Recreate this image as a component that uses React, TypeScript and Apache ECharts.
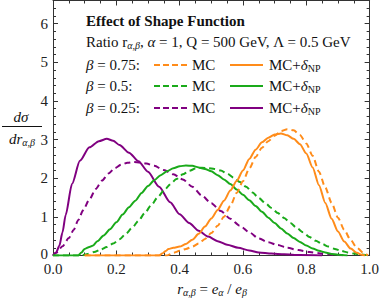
import React, { useEffect, useRef } from 'react';
import * as echarts from 'echarts';

// ---- data (x = r_{α,β}, y = dσ/dr) ----
const orangeMC: [number, number][] = [
  [0.1, 0], [0.36, 0], [0.38, 0.07], [0.4, 0.12], [0.42, 0.17], [0.44, 0.23], [0.46, 0.31], [0.48, 0.43],
  [0.5, 0.58], [0.52, 0.77], [0.54, 1.0], [0.56, 1.28], [0.58, 1.62], [0.6, 1.92], [0.62, 2.25], [0.64, 2.55],
  [0.66, 2.79], [0.68, 2.96], [0.7, 3.1], [0.72, 3.22], [0.74, 3.27], [0.76, 3.24], [0.78, 3.12], [0.8, 2.9],
  [0.82, 2.58], [0.84, 2.17], [0.86, 1.76], [0.88, 1.36], [0.9, 0.98], [0.92, 0.66], [0.94, 0.4], [0.96, 0.2],
  [0.98, 0.07], [0.995, 0],
];
const orangeNP: [number, number][] = [
  [0.1, 0], [0.335, 0], [0.345, 0.05], [0.355, 0.11], [0.365, 0.17], [0.38, 0.2], [0.4, 0.23], [0.42, 0.3],
  [0.44, 0.41], [0.46, 0.56], [0.48, 0.75], [0.5, 0.96], [0.52, 1.18], [0.54, 1.42], [0.56, 1.68], [0.58, 1.93],
  [0.6, 2.2], [0.62, 2.5], [0.64, 2.74], [0.66, 2.93], [0.68, 3.05], [0.7, 3.13], [0.72, 3.16], [0.74, 3.11],
  [0.76, 3.02], [0.78, 2.88], [0.8, 2.64], [0.82, 2.28], [0.84, 1.82], [0.86, 1.36], [0.88, 0.95], [0.9, 0.62],
  [0.92, 0.36], [0.94, 0.18], [0.96, 0.07], [0.975, 0.02], [0.985, 0],
];
const greenMC: [number, number][] = [
  [0, 0], [0.09, 0], [0.11, 0.04], [0.13, 0.09], [0.15, 0.15], [0.17, 0.22], [0.19, 0.31], [0.21, 0.42],
  [0.23, 0.56], [0.25, 0.72], [0.27, 0.9], [0.29, 1.1], [0.31, 1.3], [0.33, 1.5], [0.35, 1.68], [0.37, 1.84],
  [0.39, 1.98], [0.41, 2.1], [0.43, 2.19], [0.45, 2.25], [0.47, 2.27], [0.49, 2.26], [0.51, 2.24], [0.53, 2.2],
  [0.55, 2.12], [0.57, 2.02], [0.59, 1.9], [0.61, 1.78], [0.63, 1.63], [0.65, 1.49], [0.67, 1.36], [0.69, 1.23],
  [0.71, 1.1], [0.73, 0.97], [0.75, 0.84], [0.77, 0.71], [0.79, 0.6], [0.81, 0.48], [0.83, 0.38], [0.85, 0.3],
  [0.87, 0.23], [0.89, 0.17], [0.91, 0.12], [0.93, 0.08], [0.95, 0.05], [0.97, 0.03], [0.99, 0.01], [1, 0],
];
const greenNP: [number, number][] = [
  [0, 0], [0.08, 0], [0.09, 0.08], [0.1, 0.17], [0.115, 0.22], [0.125, 0.25], [0.14, 0.37], [0.16, 0.52],
  [0.18, 0.68], [0.2, 0.86], [0.22, 1.06], [0.24, 1.25], [0.26, 1.42], [0.28, 1.62], [0.3, 1.8], [0.32, 1.95],
  [0.34, 2.08], [0.36, 2.18], [0.38, 2.26], [0.4, 2.31], [0.42, 2.33], [0.44, 2.32], [0.46, 2.28], [0.48, 2.24],
  [0.5, 2.18], [0.52, 2.08], [0.54, 1.97], [0.56, 1.85], [0.58, 1.71], [0.6, 1.57], [0.62, 1.43], [0.64, 1.28],
  [0.66, 1.13], [0.68, 0.98], [0.7, 0.84], [0.72, 0.7], [0.74, 0.57], [0.76, 0.45], [0.78, 0.35], [0.8, 0.26],
  [0.82, 0.18], [0.84, 0.12], [0.86, 0.08], [0.88, 0.04], [0.9, 0.02], [0.93, 0],
];
const purpleMC: [number, number][] = [
  [0, 0], [0.01, 0.07], [0.03, 0.24], [0.05, 0.45], [0.065, 0.66], [0.08, 0.92], [0.095, 1.17], [0.115, 1.45],
  [0.135, 1.72], [0.155, 1.94], [0.175, 2.12], [0.195, 2.26], [0.215, 2.35], [0.235, 2.4], [0.255, 2.42],
  [0.275, 2.41], [0.295, 2.38], [0.32, 2.32], [0.35, 2.21], [0.38, 2.1], [0.41, 1.97], [0.44, 1.78],
  [0.47, 1.55], [0.5, 1.35], [0.53, 1.15], [0.56, 0.95], [0.59, 0.77], [0.62, 0.6], [0.65, 0.44], [0.68, 0.34],
  [0.71, 0.27], [0.74, 0.2], [0.775, 0.14], [0.81, 0.09], [0.84, 0.06], [0.87, 0.03], [0.9, 0.01], [0.93, 0],
];
const purpleNP: [number, number][] = [
  [0, 0], [0.01, 0.08], [0.02, 0.25], [0.03, 0.6], [0.04, 1.05], [0.06, 1.85], [0.085, 2.45], [0.115, 2.8],
  [0.145, 2.96], [0.17, 3.02], [0.19, 2.97], [0.21, 2.86], [0.24, 2.66], [0.27, 2.44], [0.3, 2.17],
  [0.335, 1.78], [0.37, 1.38], [0.4, 1.07], [0.43, 0.84], [0.46, 0.64], [0.49, 0.49], [0.52, 0.37],
  [0.55, 0.28], [0.585, 0.2], [0.62, 0.13], [0.65, 0.08], [0.69, 0.05], [0.73, 0.03], [0.78, 0.01], [0.85, 0],
];

const xTickLabels = ['0.0', '0.2', '0.4', '0.6', '0.8', '1.0'];
const legendRows = ['{it|β} = 0.75:', '{it|β} = 0.5:', '{it|β} = 0.25:'];

const ORANGE = '#FF8C1A';
const GREEN = '#1AAA1A';
const PURPLE = '#800080';
const FONT = '"Liberation Serif", "DejaVu Serif", serif';
const AX = '#333';

export default function App() {
  const ref = useRef<HTMLDivElement>(null);
  useEffect(() => {
    const chart = echarts.init(ref.current!, null, { renderer: 'svg' });
    const colors = [ORANGE, GREEN, PURPLE];
    const rich = {
      it: { fontFamily: FONT, fontSize: 15, fontStyle: 'italic', fill: '#111' },
      sub: { fontFamily: FONT, fontSize: 10, verticalAlign: 'bottom', lineHeight: 8, fill: '#111' },
      subit: { fontFamily: FONT, fontSize: 10, fontStyle: 'italic', verticalAlign: 'bottom', lineHeight: 8, fill: '#111' },
    };
    const txt = (text: string, x: number, y: number, extra: any = {}) => ({
      type: 'text', x, y, z: 100,
      style: {
        text, fill: '#111', font: `15px ${FONT}`, fontFamily: FONT, fontSize: 15,
        align: 'left', verticalAlign: 'middle', textAlign: 'left', textVerticalAlign: 'middle',
        lineHeight: 16, rich, ...extra,
      },
    });
    const graphics: any[] = [
      txt('Effect of Shape Function', 86, 21, { font: `bold 15px ${FONT}`, fontWeight: 'bold' }),
      txt('Ratio r{subit|α,β}, {it|α} = 1, Q = 500 GeV, Λ = 0.5 GeV', 86, 42),
    ];
    const rowY = [65, 86, 108];
    legendRows.forEach((label, i) => {
      const y = rowY[i];
      graphics.push(txt(label, 86, y));
      graphics.push({ type: 'line', z: 100, shape: { x1: 154, y1: y, x2: 187, y2: y },
        style: { stroke: colors[i], lineWidth: 2, lineDash: [6, 3] } });
      graphics.push(txt('MC', 192, y));
      graphics.push({ type: 'line', z: 100, shape: { x1: 230, y1: y, x2: 263, y2: y },
        style: { stroke: colors[i], lineWidth: 2 } });
      graphics.push(txt('MC+{it|δ}{sub|NP}', 269, y));
    });
    // y axis label (fraction)
    graphics.push(txt('{it|dσ}', 21, 117, { align: 'center', textAlign: 'center' }));
    graphics.push({ type: 'line', z: 100, shape: { x1: 2, y1: 126.5, x2: 42, y2: 126.5 },
      style: { stroke: '#111', lineWidth: 1 } });
    graphics.push(txt('{it|dr}{subit|α,β}', 22, 139, { align: 'center', textAlign: 'center' }));
    // x axis label
    graphics.push(txt('{it|r}{subit|α,β} = {it|e}{subit|α} / {it|e}{subit|β}', 212, 289,
      { align: 'center', textAlign: 'center' }));

    const axisCommon = {
      axisLine: { show: true, onZero: false, lineStyle: { color: AX, width: 1 } },
      axisTick: { show: true, inside: true, length: 5, lineStyle: { color: AX } },
      minorTick: { show: true, length: 3, lineStyle: { color: AX } },
      splitLine: { show: false },
      minorSplitLine: { show: false },
    };
    const labelStyle = { fontFamily: FONT, fontSize: 15, color: '#222', lineHeight: 11 };
    const mk = (name: string, data: [number, number][], color: string, dashed: boolean) => ({
      name, type: 'line', data, showSymbol: false, symbol: 'none', smooth: 0.25, smoothMonotone: 'x',
      lineStyle: { color, width: 2, type: dashed ? [6, 4] : 'solid' }, itemStyle: { color },
      xAxisIndex: 0, yAxisIndex: 0,
    });
    chart.setOption({
      animation: false,
      backgroundColor: '#fff',
      grid: { left: 53, right: 10, top: 0.5, bottom: 43.5, containLabel: false },
      xAxis: [
        { type: 'value', min: 0, max: 1, interval: 0.2, position: 'bottom', ...axisCommon,
          minorTick: { ...axisCommon.minorTick, splitNumber: 4 },
          axisLabel: { ...labelStyle, margin: 8, formatter: (v: number) => xTickLabels[Math.round(v / 0.2)] ?? '' } },
        { type: 'value', min: 0, max: 1, interval: 0.2, position: 'top', ...axisCommon,
          minorTick: { ...axisCommon.minorTick, splitNumber: 4 }, axisLabel: { show: false } },
      ],
      yAxis: [
        { type: 'value', min: 0, max: 6.6, interval: 1, position: 'left', ...axisCommon,
          minorTick: { ...axisCommon.minorTick, splitNumber: 5 },
          axisLabel: { ...labelStyle, margin: 5, showMaxLabel: false,
            formatter: (v: number) => (v === 0 ? '{z|0}' : String(v)),
            rich: { z: { fontFamily: FONT, fontSize: 15, color: '#222', lineHeight: 11, padding: [0, 0, 3, 0] } } } },
        { type: 'value', min: 0, max: 6.6, interval: 1, position: 'right', ...axisCommon,
          minorTick: { ...axisCommon.minorTick, splitNumber: 5 }, axisLabel: { show: false } },
      ],
      series: [
        mk('β=0.25 MC', purpleMC, PURPLE, true),
        mk('β=0.25 MC+δNP', purpleNP, PURPLE, false),
        mk('β=0.5 MC', greenMC, GREEN, true),
        mk('β=0.5 MC+δNP', greenNP, GREEN, false),
        mk('β=0.75 MC', orangeMC, ORANGE, true),
        mk('β=0.75 MC+δNP', orangeNP, ORANGE, false),
      ],
      graphic: { elements: graphics },
    });
    return () => chart.dispose();
  }, []);
  return <div ref={ref} style={{ width: 382, height: 299, position: 'absolute', left: 0, top: 0 }} />;
}
